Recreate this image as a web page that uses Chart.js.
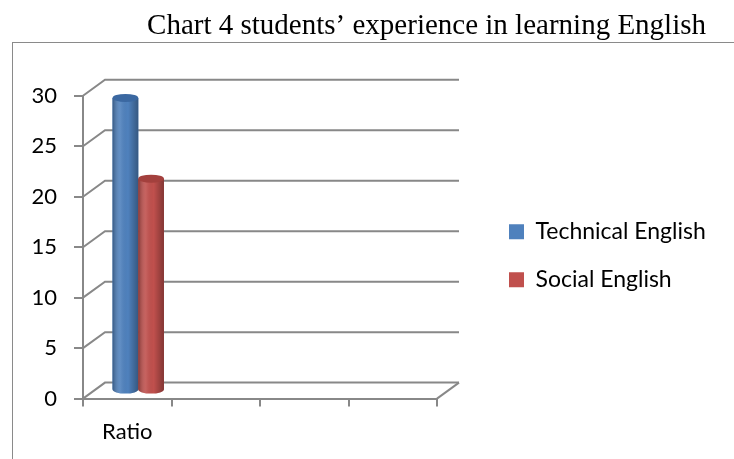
<!DOCTYPE html>
<html>
<head>
<meta charset="utf-8">
<script src="https://cdn.jsdelivr.net/npm/chart.js@4"></script>
<style>
  body { margin: 0; background: #fff; }
  #wrap { position: relative; width: 734px; height: 459px; }
  #frame { position: absolute; left: 12px; top: 42px; width: 740px; height: 440px;
           border-left: 1.5px solid #8a8a8a; border-top: 1.5px solid #8a8a8a; pointer-events: none; }
</style>
</head>
<body>
<div id="wrap">
  <canvas id="chart"></canvas>
  <div id="frame"></div>
</div>
<script>
const categories = ['Ratio', '', '', ''];
const technicalEnglish = [29];
const socialEnglish = [21];
const seriesNames = ['Technical English', 'Social English'];
const seriesColors = ['#4f81bd', '#c0504d'];
const capColors = ['#3b68a1', '#a3403d'];

// depth of the fake 3d box (back wall offset)
const DX = 22, DY = -16;
const GRID = '#888888';

function cylinderPath(ctx, x, top, bottom, w, ry) {
  ctx.beginPath();
  ctx.moveTo(x - w / 2, top);
  ctx.lineTo(x - w / 2, bottom);
  ctx.ellipse(x, bottom, w / 2, ry, 0, Math.PI, 0, true);
  ctx.lineTo(x + w / 2, top);
  ctx.closePath();
}

const box3d = {
  id: 'box3d',
  beforeDatasetsDraw(chart) {
    const {ctx, chartArea: a, scales: {y}} = chart;
    ctx.save();
    ctx.strokeStyle = GRID;
    ctx.lineWidth = 2;
    y.ticks.forEach(t => {
      const py = y.getPixelForValue(t.value);
      ctx.beginPath();
      ctx.moveTo(a.left, py);
      ctx.lineTo(a.left + DX, py + DY);
      ctx.lineTo(a.right + DX, py + DY);
      ctx.stroke();
    });
    const y0 = y.getPixelForValue(0);
    ctx.beginPath();
    ctx.moveTo(a.right, y0);
    ctx.lineTo(a.right + DX, y0 + DY);
    ctx.stroke();
    ctx.restore();
    // bars sit halfway into the box
    ctx.save();
    ctx.translate(DX / 2, DY / 2);
  },
  afterDatasetsDraw(chart) {
    const ctx = chart.ctx;
    chart.data.datasets.forEach((ds, i) => {
      const meta = chart.getDatasetMeta(i);
      if (meta.hidden) return;
      meta.data.forEach(el => {
        const {x, y, base, width} = el.getProps(['x', 'y', 'base', 'width'], true);
        if (isNaN(y)) return;
        const ry = 4;
        cylinderPath(ctx, x, y, base, width, ry);
        ctx.fillStyle = seriesColors[i];
        ctx.fill();
        const g = ctx.createLinearGradient(x - width / 2, 0, x + width / 2, 0);
        g.addColorStop(0, 'rgba(0,0,0,0.30)');
        g.addColorStop(0.3, 'rgba(255,255,255,0.10)');
        g.addColorStop(0.6, 'rgba(0,0,0,0)');
        g.addColorStop(1, 'rgba(0,0,0,0.32)');
        ctx.fillStyle = g;
        ctx.fill();
        ctx.beginPath();
        ctx.ellipse(x, y, width / 2, ry, 0, 0, Math.PI * 2);
        ctx.fillStyle = capColors[i];
        ctx.fill();
      });
    });
    ctx.restore();
  }
};

const tickFont = {family: 'Lato', size: 22};

new Chart(document.getElementById('chart'), {
  type: 'bar',
  data: {
    labels: categories,
    datasets: [
      {label: seriesNames[0], data: technicalEnglish, backgroundColor: seriesColors[0], borderWidth: 0, clip: false},
      {label: seriesNames[1], data: socialEnglish, backgroundColor: seriesColors[1], borderWidth: 0, clip: false}
    ]
  },
  options: {
    responsive: true,
    maintainAspectRatio: false,
    animation: false,
    events: [],
    layout: {padding: {left: 0, right: 28, top: 0, bottom: 2}},
    categoryPercentage: 0.58,
    barPercentage: 1,
    plugins: {
      title: {
        display: true,
        text: 'Chart 4 students’ experience in learning English',
        align: 'end',
        color: '#000',
        font: {family: 'Liberation Serif', size: 29, weight: 'normal'},
        padding: {top: 9, bottom: 52}
      },
      legend: {
        position: 'right',
        fullSize: false,
        maxWidth: 222,
        title: {display: true, text: '', font: {size: 17, lineHeight: 1}, padding: 0},
        labels: {
          boxWidth: 15,
          boxHeight: 15,
          padding: 25,
          color: '#000',
          font: {family: 'Lato', size: 23}
        }
      },
      tooltip: {enabled: false}
    },
    scales: {
      x: {
        grid: {drawOnChartArea: false, tickLength: 8, color: GRID, lineWidth: 2},
        border: {color: GRID, width: 2},
        ticks: {color: '#000', font: tickFont, padding: 12, maxRotation: 0}
      },
      y: {
        min: 0,
        max: 30,
        afterFit(s) { s.width = 83; },
        grid: {drawOnChartArea: false, tickLength: 9, color: GRID, lineWidth: 2},
        border: {color: GRID, width: 2},
        ticks: {stepSize: 5, color: '#000', font: tickFont, padding: 17}
      },
      // empty axis that only keeps room between the plot and the legend
      gap: {
        type: 'linear',
        position: 'right',
        grid: {display: false},
        border: {display: false},
        ticks: {display: false},
        afterFit(s) { s.width = 47; }
      }
    }
  },
  plugins: [box3d]
});
</script>
</body>
</html>
